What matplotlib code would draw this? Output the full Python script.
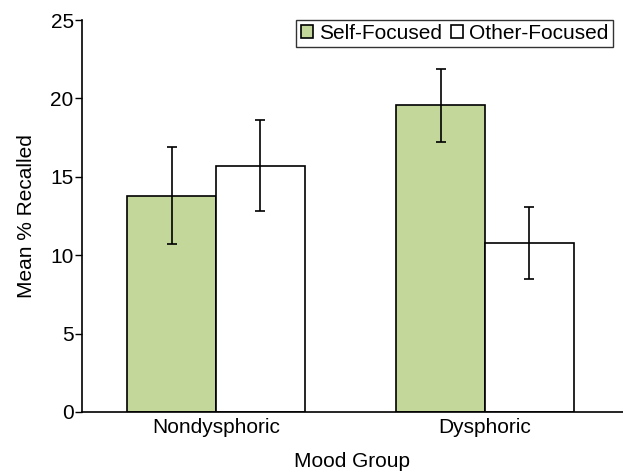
import matplotlib.pyplot as plt
import numpy as np

plt.rcParams['font.family'] = ['Liberation Sans', 'DejaVu Sans']

groups = ['Nondysphoric', 'Dysphoric']
series = ['Self-Focused', 'Other-Focused']
self_mean = [13.8, 19.55]
self_err = [3.1, 2.3]
other_mean = [15.7, 10.8]
other_err = [2.9, 2.3]

fig = plt.figure(figsize=(6.23, 4.71), dpi=100)
ax = fig.add_axes([0.1316, 0.1253, 0.8684, 0.8322])

x = np.arange(len(groups))
w = 0.33
err_kw = dict(ecolor='black', elinewidth=1.2, capsize=3.5, capthick=1.2)
ax.bar(x - w/2, self_mean, w, yerr=self_err, color='#C4D79B', edgecolor='black',
       linewidth=1.2, label=series[0], error_kw=err_kw)
ax.bar(x + w/2, other_mean, w, yerr=other_err, color='white', edgecolor='black',
       linewidth=1.2, label=series[1], error_kw=err_kw)

fs = 15
ax.set_xlim(-0.498, 1.513)
ax.set_ylim(0, 25)
ax.set_yticks([0, 5, 10, 15, 20, 25])
ax.set_xticks(x)
ax.set_xticklabels(groups, fontsize=fs)
ax.tick_params(axis='x', length=0, pad=4)
ax.tick_params(axis='y', labelsize=fs, length=5, width=1, direction='out', pad=1)
ax.spines['top'].set_visible(False)
ax.spines['right'].set_visible(False)
ax.spines['left'].set_linewidth(1.2)
ax.spines['bottom'].set_linewidth(1.2)

ax.set_ylabel('Mean % Recalled', fontsize=fs, labelpad=10)
ax.set_xlabel('Mood Group', fontsize=fs, labelpad=11)

leg = ax.legend(ncol=2, loc='upper right', bbox_to_anchor=(613/623, 1 - 20/471),
                bbox_transform=fig.transFigure, fontsize=fs, frameon=True,
                fancybox=False, edgecolor='black', handlelength=0.6, handleheight=0.6,
                handletextpad=0.3, columnspacing=0.4, borderpad=0.2, borderaxespad=0)
leg.get_frame().set_linewidth(1.0)

fig.savefig('out.png', dpi=100)
